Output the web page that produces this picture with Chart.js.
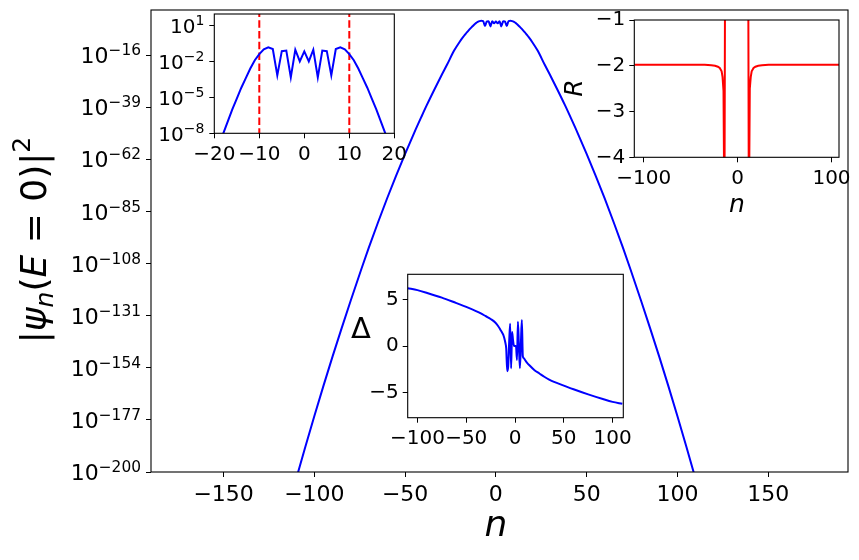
<!DOCTYPE html>
<html>
<head>
<meta charset="utf-8">
<script src="https://cdn.jsdelivr.net/npm/chart.js@4.4.1/dist/chart.umd.min.js"></script>
<style>
  body { margin: 0; background: #fff; }
  #wrap { position: relative; width: 859px; height: 560px; overflow: hidden; }
  #wrap canvas { position: absolute; }
</style>
</head>
<body>
<div id="wrap">
  <canvas id="mainPlot" width="859" height="560" style="left:0;top:0"></canvas>
  <canvas id="zoomPlot" width="270" height="175" style="left:140px;top:0"></canvas>
  <canvas id="ratioPlot" width="299" height="230" style="left:560px;top:0"></canvas>
  <canvas id="deltaPlot" width="310" height="200" style="left:330px;top:255px"></canvas>
</div>
<script>
const psiN = [-120, -115, -110, -105, -100, -95, -90, -85, -80, -74, -70, -65, -60, -55, -50, -45, -41, -38, -34, -30, -27, -23, -20, -18,
  -17, -16, -15, -14, -13, -12, -11, -10, -9, -8, -7, -6, -5, -4, -3, -2, -1, 0, 1, 2, 3, 4, 5, 6, 7, 8, 9, 10, 11, 12, 13, 14, 15, 16, 17,
  18, 20, 23, 27, 30, 34, 38, 41, 45, 50, 55, 60, 65, 70, 74, 80, 85, 90, 95, 100, 105, 110, 115, 120];
const psiLog = [-231.6, -217.2, -203.0, -189.0, -175.3, -162.0, -149.1, -136.6, -124.4, -110.2, -101.0, -90.0, -79.4, -69.3, -59.6, -50.3, -43.2, -38.0, -31.4, -25.0, -20.4, -14.0, -10.2, -8.0,
  -7.0, -6.0, -5.1, -4.2, -3.4, -2.6, -1.9, -1.39, -1.0, -0.83, -0.97, -3.17, -1.15, -1.1, -3.33, -1.03, -2.0, -1.17, -2.0, -1.03, -3.33, -1.1, -1.15, -3.17, -0.97, -0.83, -1.0, -1.39, -1.9, -2.6, -3.4, -4.2, -5.1, -6.0, -7.0,
  -8.0, -10.2, -14.0, -20.4, -25.0, -31.4, -38.0, -43.2, -50.3, -59.6, -69.3, -79.4, -90.0, -101.0, -110.2, -124.4, -136.6, -149.1, -162.0, -175.3, -189.0, -203.0, -217.2, -231.6];

// Delta inset
const deltaN = [-110, -100, -90, -75, -60, -50, -40, -35, -30, -25, -20, -17, -15, -13, -12, -11, -10,
  -9, -8, -7, -6, -5, -4, -3, -2, -1, 0, 1, 2, 3, 4, 5, 6, 7, 8, 9, 10,
  12, 15, 20, 25, 30, 35, 40, 50, 60, 75, 90, 100, 110];
const deltaVal = [6.2, 6.0, 5.7, 5.2, 4.6, 4.2, 3.75, 3.5, 3.2, 2.9, 2.5, 2.1, 1.75, 1.4, 1.2, 0.85, 0.4,
  -0.3, -2.7, -2.2, 0.4, 2.4, -2.4, 1.5, 0.6, 0, 0, 0, -1.5, 2.6, 0.1, -2.4, 0.2, 2.8, -1.1, -1.3, -1.45,
  -1.75, -2.1, -2.6, -2.95, -3.3, -3.6, -3.85, -4.25, -4.65, -5.2, -5.7, -6.0, -6.2];

// R inset, null = off the top of the axes (gap between the two poles)
const ratioN = [-110, -80, -50, -35, -28, -24, -21, -19, -17, -16, -15, -14, -13, 0, 11, 12, 13, 14, 15, 17, 19, 22, 26, 33, 50, 80, 110];
const ratioVal = [-1.98, -1.98, -1.98, -1.98, -1.99, -2.0, -2.02, -2.05, -2.12, -2.25, -2.55, -5.5, 3.0, null, 3.0, -5.5, -2.5, -2.25, -2.12, -2.05, -2.02, -2.0, -1.99, -1.98, -1.98, -1.98, -1.98];

// dashed markers in the zoomed inset
const markerN = [-10, 10];

// tick values
const mainXTicks = [-150, -100, -50, 0, 50, 100, 150];
const mainYExp = [-16, -39, -62, -85, -108, -131, -154, -177, -200];
const zoomXTicks = [-20, -10, 0, 10, 20];
const zoomYExp = [1, -2, -5, -8];
const ratioXTicks = [-100, 0, 100];
const ratioYTicks = [-1, -2, -3, -4];
const deltaXTicks = [-100, -50, 0, 50, 100];
const deltaYTicks = [-5, 0, 5];

const FONT = "'DejaVu Sans'";
Chart.defaults.font.family = FONT;
Chart.defaults.color = '#000';

function numLabel(v) {
    return String(v).replace('-', '\u2212');
}

function toPoints(xs, ys, fn) {
    return xs.map((x, i) => ({ x: x, y: ys[i] === null ? null : (fn ? fn(ys[i]) : ys[i]) }));
}

// one axis; the box size is forced so the plot area lands where the reference has it
function makeScale(type, min, max, tickValues, fontSize, boxSize, isX, pad) {
    return {
        type: type,
        min: min,
        max: max,
        grid: { drawOnChartArea: false, color: '#000', tickColor: '#000', tickLength: 5, tickWidth: 1 },
        border: { display: false },
        ticks: {
            padding: pad,
            maxRotation: 0,
            autoSkip: false,
            font: { size: fontSize },
            // power labels are drawn by powTickPlugin
            callback: type === 'logarithmic' ? () => '' : numLabel,
        },
        afterBuildTicks: (scale) => {
            scale.ticks = tickValues.map((v) => ({ value: v }));
        },
        afterFit: (scale) => {
            if (isX) scale.height = boxSize; else scale.width = boxSize;
            scale.paddingLeft = 0;
            scale.paddingRight = 0;
            scale.paddingTop = 0;
            scale.paddingBottom = 0;
        },
    };
}

// 10^k labels with a real raised exponent, placed through the y scale
function powTickPlugin(exps, size, gap, supRise) {
    return {
        id: 'powTicks',
        afterDraw(chart) {
            let scale = chart.scales.y;
            let ctx = chart.ctx;
            let small = size * 0.7;
            ctx.save();
            ctx.fillStyle = '#000';
            ctx.textAlign = 'left';
            ctx.textBaseline = 'alphabetic';
            exps.forEach((e) => {
                let y = scale.getPixelForValue(Math.pow(10, e));
                let sup = numLabel(e);
                ctx.font = size + 'px ' + FONT;
                let wBase = ctx.measureText('10').width;
                ctx.font = small + 'px ' + FONT;
                let wSup = ctx.measureText(sup).width;
                let x0 = chart.chartArea.left - gap - wBase - wSup;
                ctx.font = size + 'px ' + FONT;
                ctx.fillText('10', x0, y + size * 0.37);
                ctx.font = small + 'px ' + FONT;
                ctx.fillText(sup, x0 + wBase, y + size * 0.37 - supRise);
            });
            ctx.restore();
        },
    };
}

//white plot area under the data, full box on top
function framePlugin(fillWhite) {
    return {
        id: 'frame',
        beforeDraw(chart) {
            if (!fillWhite) return;
            let a = chart.chartArea;
            chart.ctx.save();
            chart.ctx.fillStyle = '#fff';
            chart.ctx.fillRect(a.left, a.top, a.right - a.left, a.bottom - a.top);
            chart.ctx.restore();
        },
        afterDraw(chart) {
            let a = chart.chartArea;
            let ctx = chart.ctx;
            ctx.save();
            ctx.strokeStyle = '#000';
            ctx.lineWidth = 1.1;
            ctx.strokeRect(a.left, a.top, a.right - a.left, a.bottom - a.top);
            ctx.restore();
        },
    };
}

// free text (axis titles with mixed fonts), each item is centred on x along its baseline
function labelPlugin(items) {
    return {
        id: 'labels',
        afterDraw(chart) {
            let ctx = chart.ctx;
            items.forEach((item) => {
                ctx.save();
                ctx.translate(item.x, item.y);
                if (item.rotate) ctx.rotate(item.rotate);
                ctx.fillStyle = '#000';
                ctx.textAlign = 'left';
                ctx.textBaseline = 'alphabetic';
                let total = 0;
                item.runs.forEach((r) => {
                    ctx.font = r.font;
                    total += ctx.measureText(r.text).width;
                });
                let pos = -total / 2;
                item.runs.forEach((r) => {
                    ctx.font = r.font;
                    ctx.fillText(r.text, pos, r.dy || 0);
                    pos += ctx.measureText(r.text).width;
                });
                ctx.restore();
            });
        },
    };
}

function lineSet(data, color, width, dash, smooth) {
    return {
        data: data,
        borderColor: color,
        borderWidth: width,
        borderDash: dash || [],
        pointRadius: 0,
        tension: 0,
        cubicInterpolationMode: smooth ? 'monotone' : 'default',
        fill: false,
        spanGaps: false,
    };
}

const baseOptions = {
    responsive: false,
    animation: false,
    events: [],
    plugins: { legend: { display: false }, tooltip: { enabled: false } },
};

const psiPoints = toPoints(psiN, psiLog, (v) => Math.pow(10, v));

// main plot
new Chart(document.getElementById('mainPlot'), {
    type: 'line',
    data: { datasets: [lineSet(psiPoints, '#0000ff', 2, null, true)] },
    options: Object.assign({}, baseOptions, {
        layout: { padding: { left: 0, top: 10, right: 11, bottom: 0 } },
        scales: {
            x: makeScale('linear', -190, 194, mainXTicks, 22, 88, true, 5),
            y: makeScale('logarithmic', 1e-200, Math.pow(10, 3.9), mainYExp.map((e) => Math.pow(10, e)), 22, 151, false, 5),
        },
    }),
    plugins: [
        framePlugin(false),
        powTickPlugin(mainYExp, 22, 10, 8),
        labelPlugin([
            {
                x: 46, y: 240, rotate: -Math.PI / 2,
                runs: [
                    { text: '|', font: '36px ' + FONT },
                    { text: 'ψ', font: 'italic 36px ' + FONT },
                    { text: 'n', font: 'italic 25px ' + FONT, dy: 7 },
                    { text: '(', font: '36px ' + FONT },
                    { text: 'E', font: 'italic 36px ' + FONT },
                    { text: ' = 0)|', font: '36px ' + FONT },
                    { text: '2', font: '25px ' + FONT, dy: -16 },
                ],
            },
            { x: 496, y: 536, runs: [{ text: 'n', font: 'italic 36px ' + FONT }] },
        ]),
    ],
});

// zoom on the centre, log scale
const markerSets = markerN.map((n) => lineSet([{ x: n, y: 1e-10 }, { x: n, y: 1e4 }], '#ff0000', 2, [7.5, 3.3]));
new Chart(document.getElementById('zoomPlot'), {
    type: 'line',
    data: { datasets: [lineSet(psiPoints, '#0000ff', 2)].concat(markerSets) },
    options: Object.assign({}, baseOptions, {
        layout: { padding: { left: 0, top: 14, right: 15.7, bottom: 0 } },
        scales: {
            x: makeScale('linear', -20, 20, zoomXTicks, 20, 41.7, true, 4),
            y: makeScale('logarithmic', 1e-8, Math.pow(10, 1.95), zoomYExp.map((e) => Math.pow(10, e)), 20, 74.3, false, 4),
        },
    }),
    plugins: [framePlugin(true), powTickPlugin(zoomYExp, 20, 10, 8)],
});

// R inset
new Chart(document.getElementById('ratioPlot'), {
    type: 'line',
    data: { datasets: [lineSet(toPoints(ratioN, ratioVal), '#ff0000', 2)] },
    options: Object.assign({}, baseOptions, {
        layout: { padding: { left: 0, top: 20, right: 20, bottom: 0 } },
        scales: {
            x: makeScale('linear', -110, 108, ratioXTicks, 20, 72.7, true, 4),
            y: makeScale('linear', -4, -1, ratioYTicks, 20, 74.3, false, 4),
        },
    }),
    plugins: [
        framePlugin(true),
        labelPlugin([
            { x: 22, y: 88, rotate: -Math.PI / 2, runs: [{ text: 'R', font: 'italic 25px ' + FONT }] },
            { x: 177, y: 212, runs: [{ text: 'n', font: 'italic 25px ' + FONT }] },
        ]),
    ],
});

// Delta inset
new Chart(document.getElementById('deltaPlot'), {
    type: 'line',
    data: { datasets: [lineSet(toPoints(deltaN, deltaVal), '#0000ff', 2, null, true)] },
    options: Object.assign({}, baseOptions, {
        layout: { padding: { left: 0, top: 19.3, right: 16.7, bottom: 0 } },
        scales: {
            x: makeScale('linear', -110, 111, deltaXTicks, 20, 37.3, true, 4),
            y: makeScale('linear', -7.7, 7.7, deltaYTicks, 20, 77.7, false, 4),
        },
    }),
    plugins: [
        framePlugin(true),
        labelPlugin([{ x: 31, y: 83, runs: [{ text: 'Δ', font: '29px ' + FONT }] }]),
    ],
});
</script>
</body>
</html>
